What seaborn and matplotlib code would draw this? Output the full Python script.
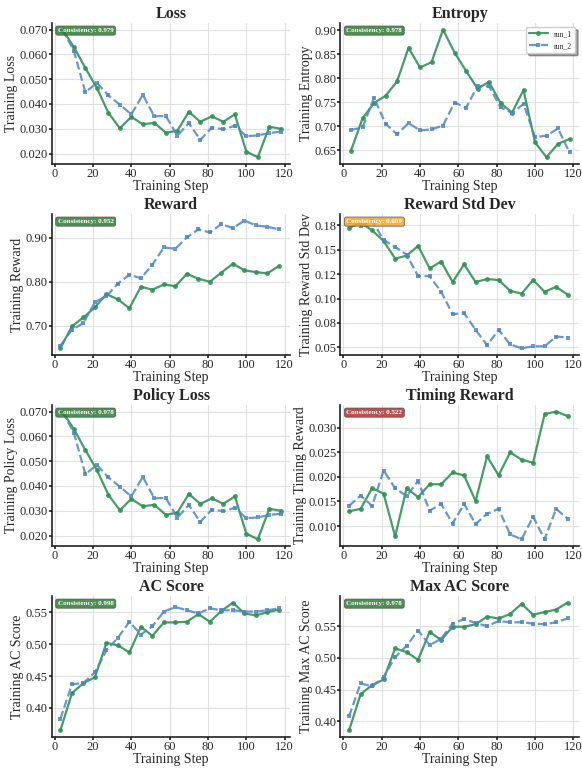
import numpy as np
import pandas as pd
import matplotlib
matplotlib.use('Agg')
import matplotlib.pyplot as plt
import seaborn as sns
from matplotlib.ticker import FormatStrFormatter, MultipleLocator

# training steps
steps_a = [4, 10, 16, 22, 28, 34, 40, 46, 52, 58, 64, 70, 76, 82, 88, 94, 100, 106, 112, 118]
steps_b = [3, 9, 15, 21, 27, 33, 39, 45, 51, 57, 63, 69, 75, 81, 87, 93, 99, 105, 111, 117]

loss_run1 = [0.0700, 0.0630, 0.0545, 0.0465, 0.0365, 0.0302, 0.0348, 0.0318, 0.0324, 0.0284,
             0.0292, 0.0368, 0.0328, 0.0350, 0.0328, 0.0358, 0.0208, 0.0185, 0.0308, 0.0300]
loss_run2 = [0.0700, 0.0615, 0.0447, 0.0485, 0.0435, 0.0397, 0.0358, 0.0437, 0.0350, 0.0352,
             0.0272, 0.0323, 0.0255, 0.0305, 0.0298, 0.0312, 0.0270, 0.0273, 0.0283, 0.0288]

entropy_run1 = [0.649, 0.716, 0.748, 0.763, 0.793, 0.863, 0.822, 0.833, 0.901, 0.853,
                0.815, 0.778, 0.792, 0.748, 0.728, 0.775, 0.666, 0.635, 0.663, 0.673]
entropy_run2 = [0.692, 0.697, 0.759, 0.705, 0.683, 0.706, 0.691, 0.693, 0.701, 0.749,
                0.738, 0.783, 0.783, 0.739, 0.727, 0.746, 0.677, 0.680, 0.695, 0.645]

reward_run1 = [0.649, 0.699, 0.719, 0.742, 0.772, 0.760, 0.740, 0.789, 0.782, 0.794,
               0.790, 0.818, 0.807, 0.800, 0.821, 0.841, 0.826, 0.822, 0.819, 0.836]
reward_run2 = [0.655, 0.691, 0.706, 0.754, 0.767, 0.796, 0.816, 0.808, 0.839, 0.878,
               0.875, 0.901, 0.919, 0.912, 0.931, 0.922, 0.939, 0.928, 0.925, 0.919]

rstd_run1 = [0.1725, 0.178, 0.170, 0.159, 0.141, 0.144, 0.154, 0.131, 0.138, 0.117,
             0.135, 0.117, 0.120, 0.119, 0.108, 0.105, 0.119, 0.107, 0.112, 0.104]
rstd_run2 = [0.179, 0.174, 0.180, 0.160, 0.153, 0.145, 0.123, 0.123, 0.107, 0.084,
             0.085, 0.068, 0.052, 0.068, 0.053, 0.049, 0.051, 0.051, 0.061, 0.060]

ploss_run1 = [0.0700, 0.0630, 0.0545, 0.0465, 0.0365, 0.0302, 0.0348, 0.0318, 0.0324, 0.0284,
              0.0292, 0.0368, 0.0328, 0.0350, 0.0328, 0.0358, 0.0208, 0.0185, 0.0308, 0.0300]
ploss_run2 = [0.0700, 0.0615, 0.0447, 0.0485, 0.0435, 0.0397, 0.0358, 0.0437, 0.0350, 0.0352,
              0.0272, 0.0323, 0.0255, 0.0305, 0.0298, 0.0312, 0.0270, 0.0273, 0.0283, 0.0288]

timing_run1 = [0.0130, 0.0135, 0.0177, 0.0166, 0.0079, 0.0177, 0.0159, 0.0185, 0.0185, 0.0209,
               0.0203, 0.0151, 0.0242, 0.0203, 0.0250, 0.0235, 0.0229, 0.0328, 0.0333, 0.0324]
timing_run2 = [0.0141, 0.0162, 0.0141, 0.0213, 0.0177, 0.0161, 0.0192, 0.0131, 0.0145, 0.0105,
               0.0145, 0.0104, 0.0125, 0.0135, 0.0083, 0.0073, 0.0119, 0.0073, 0.0135, 0.0115]

ac_run1 = [0.365, 0.423, 0.439, 0.448, 0.502, 0.498, 0.487, 0.527, 0.513, 0.534,
           0.534, 0.535, 0.547, 0.535, 0.552, 0.565, 0.548, 0.545, 0.550, 0.554]
ac_run2 = [0.383, 0.437, 0.439, 0.456, 0.490, 0.510, 0.535, 0.515, 0.528, 0.551,
           0.558, 0.553, 0.548, 0.556, 0.553, 0.553, 0.551, 0.551, 0.553, 0.556]

maxac_run1 = [0.386, 0.443, 0.457, 0.466, 0.515, 0.509, 0.497, 0.541, 0.528, 0.549,
              0.549, 0.553, 0.565, 0.562, 0.569, 0.585, 0.568, 0.572, 0.576, 0.587]
maxac_run2 = [0.408, 0.460, 0.455, 0.470, 0.501, 0.519, 0.543, 0.520, 0.530, 0.554,
              0.561, 0.555, 0.550, 0.558, 0.556, 0.556, 0.554, 0.553, 0.556, 0.562]

titles = ['Loss', 'Entropy', 'Reward', 'Reward Std Dev',
          'Policy Loss', 'Timing Reward', 'AC Score', 'Max AC Score']
consistency = [0.979, 0.978, 0.952, 0.699, 0.978, 0.522, 0.998, 0.978]

# (steps, run_1, run_2, tick format, tick step)
panels = [
    (steps_a, loss_run1, loss_run2, '%.3f', 0.01),
    (steps_a, entropy_run1, entropy_run2, '%.2f', 0.05),
    (steps_b, reward_run1, reward_run2, '%.2f', 0.1),
    (steps_b, rstd_run1, rstd_run2, '%.2f', 0.025),
    (steps_a, ploss_run1, ploss_run2, '%.3f', 0.01),
    (steps_b, timing_run1, timing_run2, '%.3f', 0.005),
    (steps_b, ac_run1, ac_run2, '%.2f', 0.05),
    (steps_b, maxac_run1, maxac_run2, '%.2f', 0.05),
]

GREEN = '#339158'
BLUE = '#4F87C0'


def badge_color(c):
    if c >= 0.9:
        return '#2E7D32'
    if c >= 0.6:
        return '#F5A623'
    return '#B03030'


def main():
    sns.set_theme(style='whitegrid')
    plt.rcParams['font.family'] = ['Liberation Serif', 'DejaVu Serif']
    plt.rcParams['axes.edgecolor'] = '#222222'

    fig, axes = plt.subplots(4, 2, figsize=(5.82, 7.73), dpi=100)
    for i, ax in enumerate(axes.flat):
        steps, r1, r2, fmt, step = panels[i]
        df = pd.DataFrame({'step': steps, 'run_1': r1, 'run_2': r2})
        sns.lineplot(data=df, x='step', y='run_1', ax=ax, color=GREEN, marker='o',
                     markersize=3.5, markeredgewidth=0, linewidth=1.6, alpha=0.9,
                     label='run_1')
        sns.lineplot(data=df, x='step', y='run_2', ax=ax, color=BLUE, marker='s',
                     markersize=3.5, markeredgewidth=0, linewidth=1.6, alpha=0.85,
                     linestyle='--', label='run_2')

        ax.set_title(titles[i], fontsize=11.5, fontweight='bold', pad=4)
        ax.set_xlabel('Training Step', fontsize=10, labelpad=0)
        ax.set_ylabel('Training ' + titles[i], fontsize=10, labelpad=1)
        ax.set_xticks([0, 20, 40, 60, 80, 100, 120])
        ax.set_xlim(-1.5, 123)
        ax.yaxis.set_major_locator(MultipleLocator(step))
        ax.yaxis.set_major_formatter(FormatStrFormatter(fmt))
        ax.tick_params(labelsize=9, pad=1, length=2, left=True, bottom=True)
        ax.grid(True, color='#dddddd', linewidth=0.8, alpha=0.9)
        sns.despine(ax=ax)
        for s in ['left', 'bottom']:
            ax.spines[s].set_linewidth(1.2)

        c = consistency[i]
        ax.text(0.025, 0.965, f'Consistency: {c:.3f}', transform=ax.transAxes,
                fontsize=5, fontweight='bold', color='white', va='top', ha='left',
                zorder=10,
                bbox=dict(boxstyle='round,pad=0.3', facecolor=badge_color(c),
                          edgecolor='#555555', alpha=0.85, linewidth=0.6))

        if i == 1:
            ax.legend(loc='upper right', fontsize=5.5, frameon=True, shadow=True,
                      fancybox=True, handlelength=2.5, borderpad=0.4)
        else:
            ax.get_legend().remove()

    fig.subplots_adjust(left=0.089, right=0.995, top=0.970, bottom=0.047,
                        wspace=0.21, hspace=0.36)
    fig.savefig('out.png', dpi=100)


if __name__ == "__main__":
    main()
